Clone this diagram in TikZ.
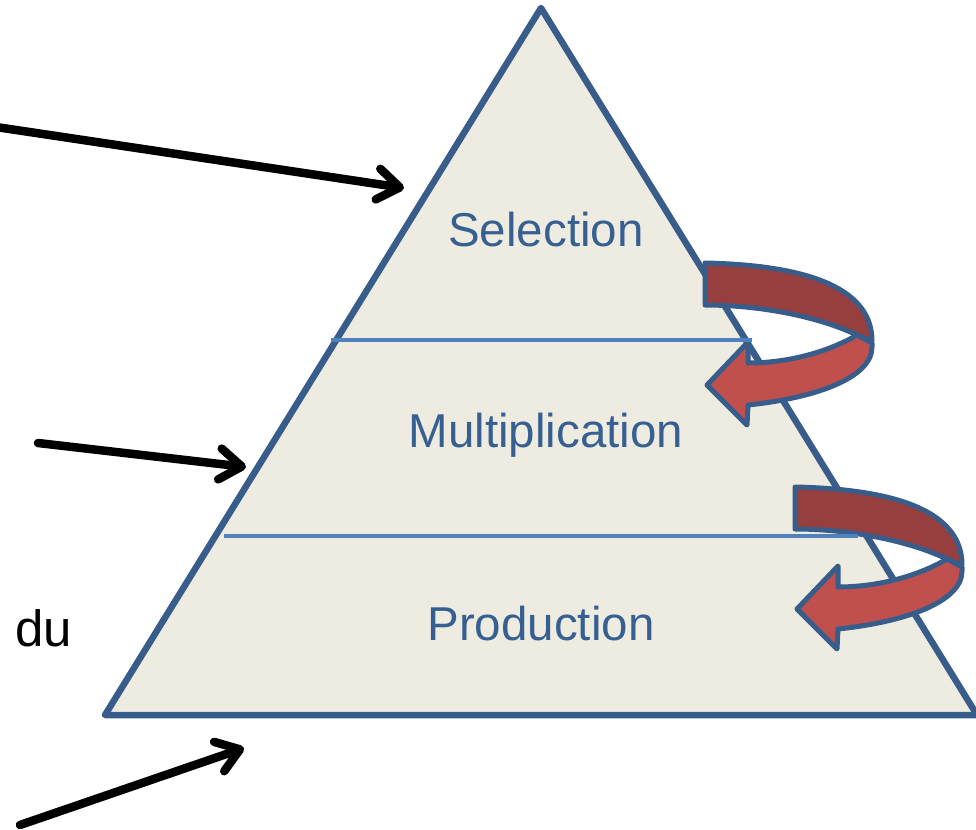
\documentclass[tikz,border=0pt]{standalone}
\usepackage{fontspec}
\setmainfont{Liberation Sans}
\usepackage{tikz}
\usetikzlibrary{arrows.meta}
\definecolor{cfill}{HTML}{EEECE1}
\definecolor{cedge}{HTML}{385D8A}
\definecolor{cdiv}{HTML}{4F81BD}
\definecolor{ctext}{HTML}{376092}
\definecolor{credd}{HTML}{963F3E}
\definecolor{credl}{HTML}{C0504D}
\tikzset{
  tri/.style={draw=cedge, fill=cfill, line width=6.5pt, line join=round},
  divline/.style={draw=cdiv, line width=4.5pt},
  level/.style={font=\fontsize{47.5}{57}\selectfont, text=ctext, anchor=base, inner sep=0pt},
  side/.style={font=\fontsize{51}{60}\selectfont, text=black, anchor=base, inner sep=0pt},
  pointer/.style={draw=black, line width=8.5pt, line cap=round,
    -{Straight Barb[length=22pt, width=31pt, round]}},
  band/.style={draw=cedge, line width=5pt, line join=round},
  pics/turnarrow/.style={code={
    \fill[credd, band] (0,0) .. controls (95,2) and (167,22) .. (167,78)
      -- (152,72) .. controls (110,52) and (50,42) .. (0,42) -- cycle;
    \fill[credl, band] (152,72) .. controls (125,88) and (85,100) .. (43,100)
      -- (43,79) -- (2,122) -- (42,162) -- (43,142)
      .. controls (110,135) and (167,115) .. (167,84) -- (167,80) -- cycle;
  }},
}
\begin{document}
\begin{tikzpicture}[x=1pt,y=-1pt]
\useasboundingbox (0,0) rectangle (976,829);
\begin{scope}
\clip (0,0) rectangle (976,829);
% ---------------- pyramid
\coordinate (apex) at (541,8);
\coordinate (bl) at (105,715);
\coordinate (br) at (977,715);
\path[tri] (apex) -- (bl) -- (br) -- cycle;
% ---------------- feedback arrows
\pic at (705,263) {turnarrow};
\pic at (795,487) {turnarrow};
% ---------------- level dividers
\coordinate (d1l) at (331,340);
\coordinate (d1r) at (752,340);
\coordinate (d2l) at (224,536);
\coordinate (d2r) at (858,536);
\draw[divline] (d1l) -- (d1r);
\draw[divline] (d2l) -- (d2r);
% ---------------- labels
\node[level] (sel) at (546,246) {Selection};
\node[level] (mul) at (546,447) {Multiplication};
\node[level] (prod) at (541,640) {Production};
\node[side] (du) at (44,646) {du};
% ---------------- pointers
\coordinate (p1s) at (-4,127);
\coordinate (p1e) at (404,188);
\coordinate (p2s) at (38,443);
\coordinate (p2e) at (246,467);
\coordinate (p3s) at (20,825);
\coordinate (p3e) at (244,748);
\draw[pointer] (p1s) -- (p1e);
\draw[pointer] (p2s) -- (p2e);
\draw[pointer] (p3s) -- (p3e);
\end{scope}
\end{tikzpicture}
\end{document}
